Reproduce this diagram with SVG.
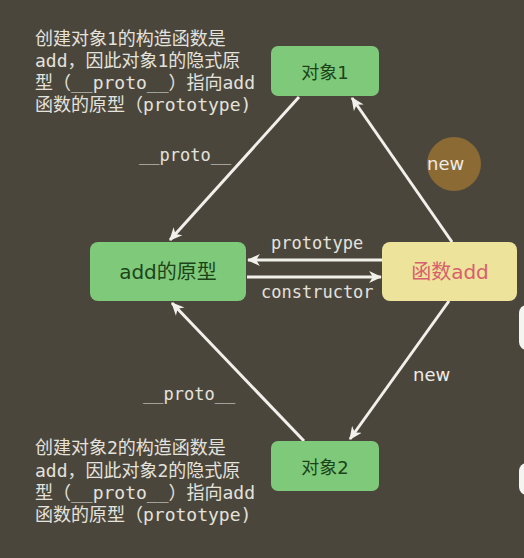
<svg xmlns="http://www.w3.org/2000/svg" width="524" height="558" viewBox="0 0 524 558">
<defs>
<marker id="ah" viewBox="0 0 12 12" refX="11" refY="6" markerWidth="13" markerHeight="13" markerUnits="userSpaceOnUse" orient="auto">
<path d="M0,0.5 L12,6 L0,11.5 L3.5,6 Z" fill="#f2f0ea"/>
</marker>
<style>
.bg{fill:#4b463c}
.txt{font-family:"DejaVu Sans Mono","Noto Sans CJK SC",monospace;fill:#e4e2dc}
.note{font-size:18px}
.lbl{font-size:17px}
.green{fill:#7fca7a}
.yellow{fill:#ede39b}
.ntxt{font-family:"DejaVu Sans","Noto Sans CJK SC",sans-serif;text-anchor:middle;dominant-baseline:central}
.conn{stroke:#f2f0ea;stroke-width:3;fill:none;marker-end:url(#ah)}
.new{font-family:"DejaVu Sans",sans-serif;font-size:18px;fill:#eeece6}
</style>
</defs>
<rect class="bg" width="524" height="558"/>

<g id="note1" class="txt note">
<text x="35" y="44.5">创建对象1的构造函数是</text>
<text x="35" y="67">add，因此对象1的隐式原</text>
<text x="35" y="89">型（__proto__）指向add</text>
<text x="35" y="111">函数的原型（prototype)</text>
</g>
<g id="note2" class="txt note">
<text x="35" y="454">创建对象2的构造函数是</text>
<text x="35" y="476.5">add，因此对象2的隐式原</text>
<text x="35" y="498.5">型（__proto__）指向add</text>
<text x="35" y="520.5">函数的原型（prototype)</text>
</g>

<circle cx="454" cy="164" r="27" fill="#8c6a34"/>

<g id="connectors">
<line class="conn" x1="299" y1="97" x2="170" y2="240"/>
<line class="conn" x1="452" y1="242" x2="352" y2="98"/>
<line class="conn" x1="382" y1="260" x2="248" y2="260"/>
<line class="conn" x1="247" y1="277" x2="381" y2="277"/>
<line class="conn" x1="304" y1="441" x2="172" y2="303"/>
<line class="conn" x1="449" y1="301" x2="350" y2="439"/>
</g>

<g id="labels" class="txt lbl">
<text x="139" y="161">__proto__</text>
<text x="271" y="249">prototype</text>
<text x="261" y="298">constructor</text>
<text x="143" y="400">__proto__</text>
<text class="new" x="413" y="381">new</text>
<text class="new" x="427" y="170">new</text>
</g>

<g id="obj1">
<rect class="green" x="271" y="46" width="108" height="50" rx="7"/>
<text class="ntxt" x="325" y="72" font-size="18" fill="#1c4419">对象1</text>
</g>
<g id="obj2">
<rect class="green" x="271" y="441" width="108" height="50" rx="7"/>
<text class="ntxt" x="325" y="467" font-size="18" fill="#1c4419">对象2</text>
</g>
<g id="proto">
<rect class="green" x="90" y="242" width="156" height="59" rx="8"/>
<text class="ntxt" x="168" y="272" font-size="20" fill="#1c4419">add的原型</text>
</g>
<g id="func">
<rect class="yellow" x="382" y="242" width="135" height="59" rx="8"/>
<text class="ntxt" x="450" y="272" font-size="20" fill="#d7606c">函数add</text>
</g>

<rect x="519" y="305" width="20" height="45" rx="8" fill="#f4f4f2"/>
<rect x="519" y="463" width="20" height="32" rx="8" fill="#f4f4f2"/>
</svg>
